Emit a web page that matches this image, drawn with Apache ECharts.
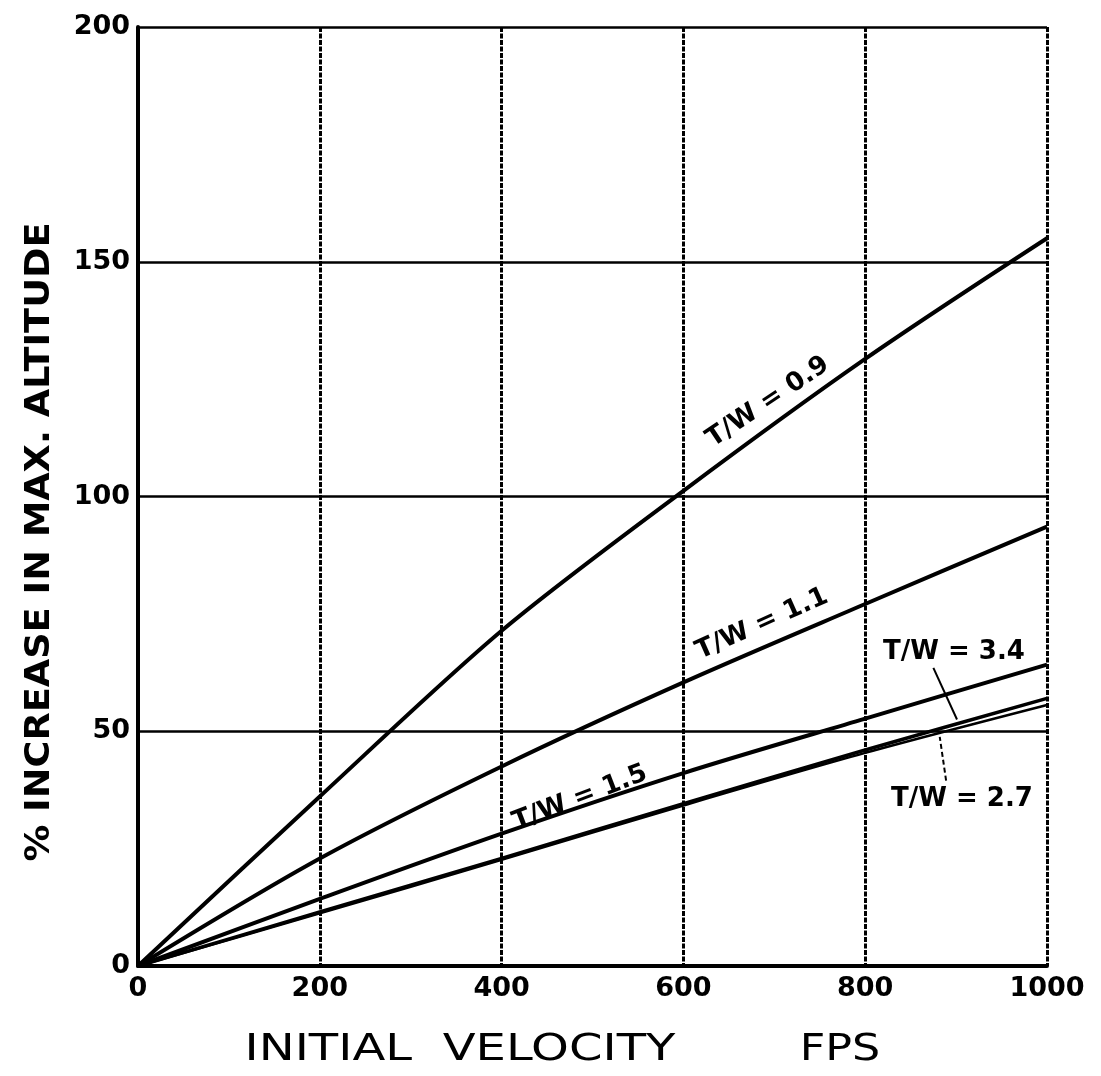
<!DOCTYPE html>
<html>
<head>
<meta charset="utf-8">
<script src="https://cdn.jsdelivr.net/npm/echarts@6/dist/echarts.min.js"></script>
<style>
  html, body { margin: 0; padding: 0; background: #fff; }
  #chart { width: 1101px; height: 1076px; }
</style>
</head>
<body>
<div id="chart"></div>
<script>
// velocity points (fps) read at the grid lines
let velocity = [0, 200, 400, 600, 800, 1000];

// % increase in max altitude for each thrust/weight ratio
let tw09 = [0, 36.1, 71.4, 101.2, 129.3, 155];
let tw11 = [0, 22.9, 42.5, 60.4, 77.1, 93.6];
let tw15 = [0, 14.3, 28.2, 41.1, 52.7, 64.2];
let tw34 = [0, 11.5, 22.9, 34.6, 46.0, 57.0];
let tw27 = [0, 11.2, 22.6, 34.2, 45.4, 55.6];

let xTicks = [0, 200, 400, 600, 800, 1000];
let yTicks = [0, 50, 100, 150, 200];

let chart = echarts.init(document.getElementById('chart'), null, { renderer: 'canvas' });

function pairs(ys) {
  return velocity.map((v, i) => [v, ys[i]]);
}

function curve(name, ys, extra) {
  let s = {
    name: name,
    type: 'line',
    data: pairs(ys),
    showSymbol: false,
    smooth: 0.3,
    lineStyle: { color: '#000', width: 4 },
    z: 5
  };
  return Object.assign(s, extra || {});
}

let labelFont = 'DejaVu Sans';

// rotated text label placed next to a curve
function tag(text, x, y, deg) {
  return {
    type: 'text',
    x: x,
    y: y,
    rotation: (deg || 0) * Math.PI / 180,
    style: {
      text: text,
      fill: '#000',
      font: 'bold 26px "DejaVu Sans"',
      align: 'center',
      verticalAlign: 'middle'
    }
  };
}

let option = {
  animation: false,
  backgroundColor: '#fff',
  grid: {
    left: 138,
    right: 54,
    top: 27,
    bottom: 110
  },
  xAxis: {
    type: 'value',
    min: xTicks[0],
    max: xTicks[xTicks.length - 1],
    interval: 200,
    axisLine: { show: true, lineStyle: { color: '#000', width: 4 } },
    axisTick: { show: false },
    axisLabel: {
      color: '#000',
      fontFamily: labelFont,
      fontWeight: 'bold',
      fontSize: 27,
      margin: 9,
      formatter: v => xTicks.indexOf(v) >= 0 ? String(v) : ''
    },
    splitLine: { show: true, lineStyle: { color: '#000', width: 3, type: [5, 1.5] } }
  },
  yAxis: {
    type: 'value',
    min: yTicks[0],
    max: yTicks[yTicks.length - 1],
    interval: 50,
    axisLine: { show: true, lineStyle: { color: '#000', width: 4 } },
    axisTick: { show: false },
    axisLabel: {
      color: '#000',
      fontFamily: labelFont,
      fontWeight: 'bold',
      fontSize: 27,
      margin: 8,
      formatter: v => yTicks.indexOf(v) >= 0 ? String(v) : ''
    },
    splitLine: { show: true, lineStyle: { color: '#000', width: 2.5 } }
  },
  series: [
    curve('T/W = 0.9', tw09),
    curve('T/W = 1.1', tw11),
    curve('T/W = 1.5', tw15),
    curve('T/W = 3.4', tw34, {
      lineStyle: { color: '#000', width: 3.5 },
      markLine: {
        silent: true,
        symbol: 'none',
        label: { show: false },
        lineStyle: { color: '#000', width: 2, type: 'solid' },
        data: [[{ coord: [875, 63.5] }, { coord: [901, 52.5] }]]
      }
    }),
    curve('T/W = 2.7', tw27, {
      lineStyle: { color: '#000', width: 2.5 },
      markLine: {
        silent: true,
        symbol: 'none',
        label: { show: false },
        lineStyle: { color: '#000', width: 2, type: [5, 3] },
        data: [[{ coord: [889, 39.5] }, { coord: [882, 48.8] }]]
      }
    })
  ],
  graphic: [
    // y axis title
    {
      type: 'text',
      x: 40,
      y: 542,
      rotation: Math.PI / 2,
      scaleX: 1.08,
      style: {
        text: '% INCREASE IN MAX. ALTITUDE',
        fill: '#000',
        font: 'bold 34px "DejaVu Sans"',
        align: 'center',
        verticalAlign: 'middle'
      }
    },
    // x axis title
    {
      type: 'text',
      x: 460,
      y: 1050,
      scaleX: 1.3,
      style: {
        text: 'INITIAL  VELOCITY',
        fill: '#000',
        font: '37px "DejaVu Sans"',
        align: 'center',
        verticalAlign: 'middle'
      }
    },
    {
      type: 'text',
      x: 840,
      y: 1050,
      scaleX: 1.2,
      style: {
        text: 'FPS',
        fill: '#000',
        font: '37px "DejaVu Sans"',
        align: 'center',
        verticalAlign: 'middle'
      }
    },
    // curve labels
    tag('T/W = 0.9', 768, 402, 34),
    tag('T/W = 1.1', 762, 624, 24),
    tag('T/W = 1.5', 580, 798, 21),
    tag('T/W = 3.4', 954, 652),
    tag('T/W = 2.7', 962, 799)
  ]
};

chart.setOption(option);
</script>
</body>
</html>
